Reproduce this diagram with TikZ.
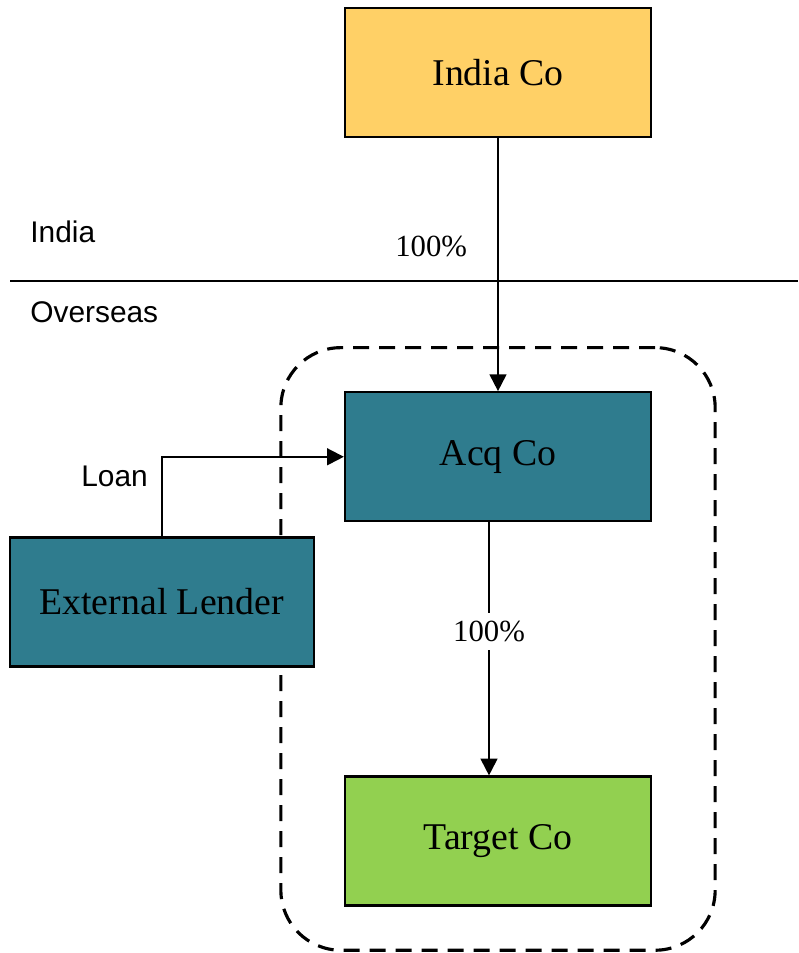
\documentclass[tikz,border=0pt]{standalone}
\usepackage{fontspec}
\setmainfont{Liberation Serif}
\setsansfont{Liberation Sans}
\usetikzlibrary{arrows.meta, positioning, fit, backgrounds}
\definecolor{indiacol}{RGB}{255,208,102}
\definecolor{acqcol}{RGB}{47,124,142}
\definecolor{targetcol}{RGB}{146,208,80}

\begin{document}
\begin{tikzpicture}[
        font=\fontsize{21.5}{26}\selectfont,
        >={Triangle[length=9.5pt, width=9.5pt]},
        entity/.style={
                rectangle, draw, line width=1.3pt,
                minimum width=6.12cm, minimum height=2.58cm,
                inner sep=0pt, align=center
            },
        arrow/.style={->, line width=1.1pt},
        pct/.style={font=\fontsize{17.5}{20}\selectfont, inner sep=0pt},
        region/.style={font=\sffamily\fontsize{17}{20}\selectfont, inner sep=0pt},
        border/.style={line width=1.1pt}
    ]
    \useasboundingbox (0,0) rectangle (15.96,-19.06);

    % ===== Entities =====
    \node[entity, fill=indiacol] (india) at (9.96,-1.45) {India Co};
    \node[entity, fill=acqcol, below=5.06cm of india] (acq) {Acq Co};
    \node[entity, fill=targetcol, below=5.06cm of acq] (target) {Target Co};
    \node[entity, fill=acqcol, minimum width=6.08cm, below left=0.28cm and 0.58cm of acq.south west] (lender) {External Lender};

    % ===== India / Overseas split =====
    \coordinate (divl) at (0.2,-5.62);
    \coordinate (divr) at (15.96,-5.62);
    \draw[border] (divl) -- (divr);
    \node[region, anchor=west] (indialbl) at (0.6,-4.64) {India};
    \node[region, anchor=west] (overseaslbl) at (0.6,-6.24) {Overseas};

    % ===== Overseas group (dashed) =====
    \begin{scope}[on background layer]
        \node[
            draw, dash pattern=on 0.32cm off 0.2cm, line width=1.8pt,
            rounded corners=1.2cm,
            fit=(acq)(target),
            inner xsep=1.26cm, inner ysep=0.87cm
        ] (group) {};
    \end{scope}

    % ===== Arrows =====
    \draw[arrow] (india.south) -- node[pct, pos=0.43, left=0.6cm] (pctindia) {100\%} (acq.north);
    \draw[arrow] ([xshift=-0.18cm]acq.south) -- node[pct, pos=0.43, fill=white, inner ysep=4.5pt, inner xsep=2pt] (pctacq) {100\%} ([xshift=-0.18cm]acq.south |- target.north);
    \draw[arrow] (lender.north) |- node[region, pos=0.38, left=0.26cm] (loanlbl) {Loan} (acq.west);

\end{tikzpicture}
\end{document}
